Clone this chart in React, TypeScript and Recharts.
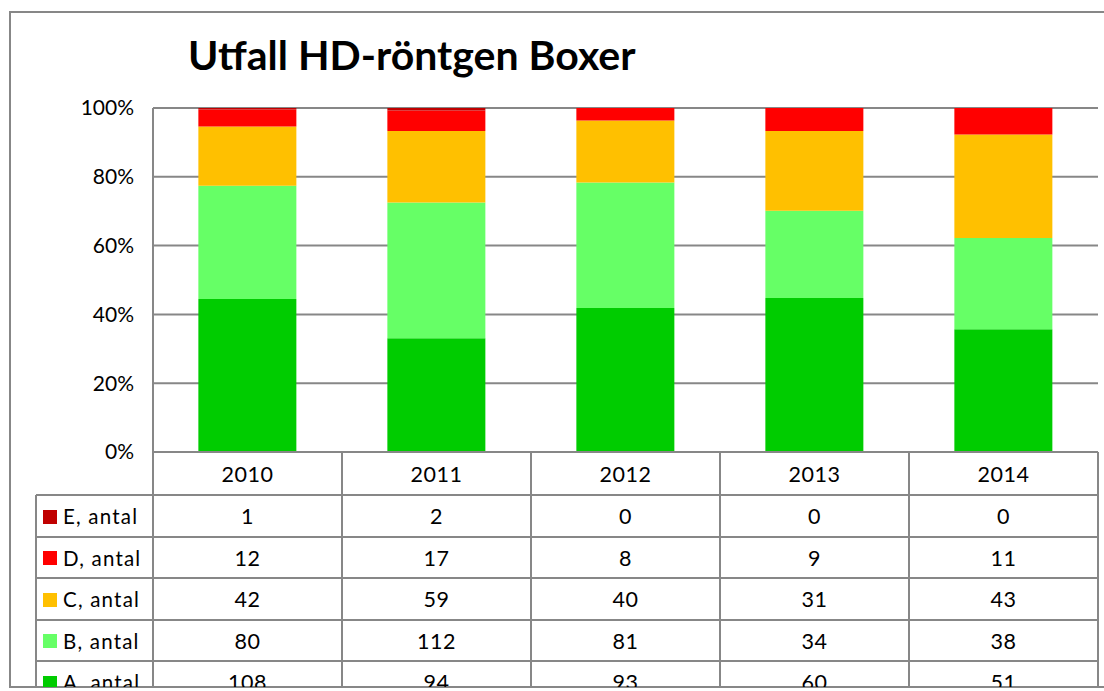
import React from 'react';
import { BarChart, Bar, XAxis, YAxis, CartesianGrid } from 'recharts';

// Utfall HD-röntgen Boxer, antal per grad och år
const YEARS = ['2010', '2011', '2012', '2013', '2014'];
const A_ANTAL = [108, 94, 93, 60, 51];
const B_ANTAL = [80, 112, 81, 34, 38];
const C_ANTAL = [42, 59, 40, 31, 43];
const D_ANTAL = [12, 17, 8, 9, 11];
const E_ANTAL = [1, 2, 0, 0, 0];
const Y_TICKS = [0, 0.2, 0.4, 0.6, 0.8, 1];

// stacking order bottom -> top
const SERIES = [
  { key: 'A', name: 'A, antal', color: '#00CC00', values: A_ANTAL },
  { key: 'B', name: 'B, antal', color: '#66FF66', values: B_ANTAL },
  { key: 'C', name: 'C, antal', color: '#FFC000', values: C_ANTAL },
  { key: 'D', name: 'D, antal', color: '#FF0000', values: D_ANTAL },
  { key: 'E', name: 'E, antal', color: '#C00000', values: E_ANTAL },
];

const CHART_DATA = YEARS.map((year, i) => {
  const row: any = { year };
  SERIES.forEach((s) => {
    row[s.key] = s.values[i];
  });
  return row;
});

const FONT = 'Lato, "Open Sans", sans-serif';
const GRID = '#878787';

// plot area in page pixels
const PLOT_L = 153;
const PLOT_R = 1098;
const PLOT_T = 108;
const PLOT_B = 452;
const COL_W = (PLOT_R - PLOT_L) / YEARS.length;
const HEAD_H = 43;
const ROW_H = 41.5;
const LEG_L = 36;
const CELL_FONT = 21.5;

function DataTable() {
  const rows = [...SERIES].reverse();
  const line = (style: React.CSSProperties) => (
    <div style={{ position: 'absolute', background: GRID, ...style }} />
  );
  const tableBottom = PLOT_B + HEAD_H + ROW_H * rows.length;
  return (
    <div
      style={{
        position: 'absolute',
        left: 0,
        top: 0,
        width: 1104,
        height: 687,
        overflow: 'hidden',
      }}
    >
      {/* header with years */}
      {YEARS.map((y, i) => (
        <div
          key={y}
          style={{
            position: 'absolute',
            left: PLOT_L + COL_W * i,
            top: PLOT_B + 1,
            width: COL_W,
            height: HEAD_H,
            lineHeight: `${HEAD_H}px`,
            textAlign: 'center',
            fontSize: CELL_FONT,
            letterSpacing: 0.5,
          }}
        >
          {y}
        </div>
      ))}
      {rows.map((s, r) => {
        const top = PLOT_B + HEAD_H + ROW_H * r;
        return (
          <React.Fragment key={s.key}>
            <div
              style={{
                position: 'absolute',
                left: LEG_L + 7,
                top: top + ROW_H / 2 - 6,
                width: 14,
                height: 14,
                background: s.color,
              }}
            />
            <div
              style={{
                position: 'absolute',
                left: LEG_L + 27,
                top: top + 1,
                height: ROW_H,
                lineHeight: `${ROW_H}px`,
                fontSize: 20.5,
                letterSpacing: 1.2,
                whiteSpace: 'nowrap',
              }}
            >
              {s.name}
            </div>
            {s.values.map((v, i) => (
              <div
                key={i}
                style={{
                  position: 'absolute',
                  left: PLOT_L + COL_W * i,
                  top: top + 1,
                  width: COL_W,
                  height: ROW_H,
                  lineHeight: `${ROW_H}px`,
                  textAlign: 'center',
                  fontSize: CELL_FONT,
                  letterSpacing: 0.5,
                }}
              >
                {v}
              </div>
            ))}
            {line({ left: LEG_L, top: top - 1, width: PLOT_R - LEG_L, height: 2 })}
          </React.Fragment>
        );
      })}
      {line({ left: PLOT_L, top: PLOT_B - 1, width: PLOT_R - PLOT_L, height: 2 })}
      {YEARS.map((y, i) =>
        line({ key: y, left: PLOT_L + COL_W * (i + 1) - 1, top: PLOT_B, width: 2, height: tableBottom - PLOT_B } as any),
      )}
      {line({ left: PLOT_L - 1, top: PLOT_B, width: 2, height: tableBottom - PLOT_B })}
      {line({ left: LEG_L - 1, top: PLOT_B + HEAD_H, width: 2, height: tableBottom - PLOT_B - HEAD_H })}
    </div>
  );
}

export default function App() {
  return (
    <div
      style={{
        position: 'absolute',
        left: 0,
        top: 0,
        width: 1104,
        height: 691,
        overflow: 'hidden',
        background: '#fff',
        fontFamily: FONT,
        color: '#000',
      }}
    >
      <div
        style={{
          position: 'absolute',
          left: 9,
          top: 11,
          width: 1120,
          height: 677,
          border: `2px solid ${GRID}`,
          boxSizing: 'border-box',
        }}
      />
      <div
        style={{
          position: 'absolute',
          left: 188,
          top: 35,
          fontSize: 41,
          lineHeight: '40px',
          fontWeight: 700,
          whiteSpace: 'nowrap',
        }}
      >
        Utfall HD-röntgen Boxer
      </div>
      <div style={{ position: 'absolute', left: 0, top: 0 }}>
        <BarChart
          width={1104}
          height={691}
          data={CHART_DATA}
          stackOffset="expand"
          barCategoryGap="24%"
          margin={{ top: PLOT_T, right: 1104 - PLOT_R, bottom: 691 - PLOT_B, left: PLOT_L - 70 }}
        >
          <CartesianGrid vertical={false} stroke={GRID} strokeWidth={2} />
          <XAxis dataKey="year" hide />
          <YAxis
            width={70}
            domain={[0, 1]}
            ticks={Y_TICKS}
            tickFormatter={(v: number) => `${Math.round(v * 100)}%`}
            tick={{ fill: '#000', fontSize: 21, fontFamily: FONT }}
            tickLine={false}
            tickSize={6}
            tickMargin={13}
            axisLine={{ stroke: GRID, strokeWidth: 2 }}
          />
          {SERIES.map((s) => (
            <Bar
              key={s.key}
              dataKey={s.key}
              name={s.name}
              stackId="a"
              fill={s.color}
              isAnimationActive={false}
            />
          ))}
        </BarChart>
      </div>
      <DataTable />
    </div>
  );
}
